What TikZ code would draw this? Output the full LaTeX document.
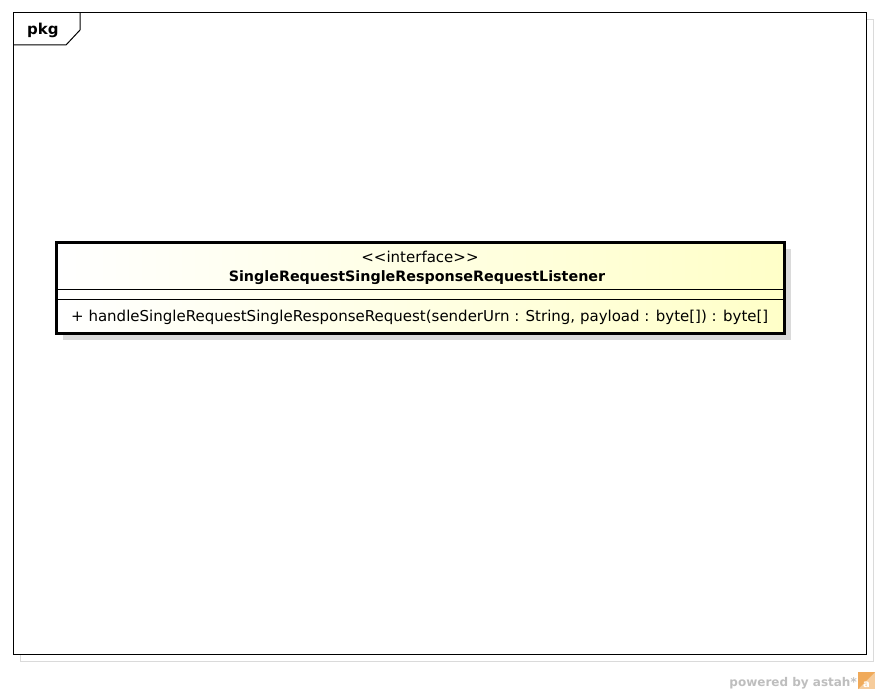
\documentclass[tikz,border=0pt]{standalone}
\usepackage{fontspec}
\setmainfont{DejaVu Sans}
\usetikzlibrary{calc}
\definecolor{shadowgray}{RGB}{218,218,218}
\definecolor{classyellow}{RGB}{255,255,200}
\definecolor{brandgray}{RGB}{190,190,190}
\definecolor{brandorange}{RGB}{240,170,90}
\tikzset{
  x=1pt, y=-1pt,
  frameline/.style={draw=black, line width=1pt},
  shadowline/.style={draw=shadowgray, line width=1pt},
  classbox/.style={draw=black, line width=3pt, left color=white, right color=classyellow},
  classshadow/.style={fill=shadowgray, draw=none},
  sep/.style={draw=black, line width=0.8pt},
  txt/.style={inner sep=0pt, font=\fontsize{15}{17}\selectfont},
  boldtxt/.style={inner sep=0pt, font=\fontsize{14.3}{16}\bfseries},
}
\begin{document}
\begin{tikzpicture}
\useasboundingbox (0,0) rectangle (880,693);
\fill[white] (0,0) rectangle (880,693);
% package frame with its shadow
\draw[shadowline] (20,20) rectangle (873,661);
\draw[frameline, fill=white] (13,13) rectangle (866,654);
\draw[frameline] (80,13) -- (80,30) -- (66,45) -- (13,45);
\node[boldtxt, font=\fontsize{15}{17}\bfseries, anchor=base west] (pkg) at (27,35) {pkg};
% interface class box
\fill[classshadow] (63,249) rectangle (791,340);
\draw[classbox] (56,242) rectangle (784,333);
\draw[sep] (56,289) -- (784,289);
\draw[sep] (56,299) -- (784,299);
\node[txt, anchor=base] (stereo) at (420,262) {\textless{}\textless{}interface\textgreater{}\textgreater{}};
\node[boldtxt, anchor=base] (name) at (417,281) {SingleRequestSingleResponseRequestListener};
\node[txt, anchor=base west] (op) at (71,321) {+ handleSingleRequestSingleResponseRequest(senderUrn : String, payload : byte[]) : byte[]};
% branding
\node[inner sep=0pt, font=\fontsize{12}{14}\bfseries, text=brandgray, anchor=base east] (brand) at (857,686) {powered by astah*};
\fill[brandorange!60] (858,672) rectangle (875,689);
\fill[brandorange] (858,672) -- (875,672) -- (858,689) -- cycle;
\node[inner sep=0pt, font=\fontsize{10}{10}\bfseries, text=white, anchor=base] (logo) at (866.5,687) {a};
\end{tikzpicture}
\end{document}
